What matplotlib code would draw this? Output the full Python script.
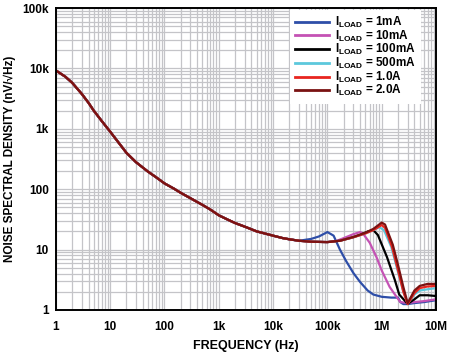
import matplotlib
matplotlib.use("Agg")
import matplotlib.pyplot as plt
from matplotlib.ticker import FixedLocator, LogLocator, NullFormatter

plt.rcParams["font.family"] = ["Liberation Sans", "DejaVu Sans"]
plt.rcParams["font.weight"] = "bold"
plt.rcParams["mathtext.fontset"] = "custom"
plt.rcParams["mathtext.rm"] = "Liberation Sans:bold"
plt.rcParams["mathtext.it"] = "Liberation Sans:bold"
plt.rcParams["mathtext.bf"] = "Liberation Sans:bold"

# shared low-frequency part (all load currents overlap here)
freq_lf = [1, 1.5, 2, 3, 4, 5, 7, 10, 15, 20, 30, 50, 70, 100, 150, 200, 300,
           500, 700, 1e3, 1.5e3, 2e3, 3e3, 5e3, 7e3, 1e4, 1.5e4, 2e4, 3e4]
nsd_lf = [9300, 7300, 5800, 3800, 2700, 2000, 1350, 900, 560, 400, 280, 195,
          158, 125, 102, 87, 71, 55, 46, 37, 31, 27.5, 24, 20, 18.5, 17,
          15.5, 14.8, 14]

# high-frequency part, one per load current
freq_1ma = [5e4, 7e4, 1e5, 1.3e5, 1.7e5, 2.2e5, 3e5, 4e5, 5.5e5, 7e5, 1e6,
            1.5e6, 2e6, 2.2e6, 2.5e6, 3e6, 4e6, 6e6, 1e7]
nsd_1ma = [15, 16.5, 19.5, 17, 10, 6.5, 4.1, 2.9, 2.1, 1.8, 1.65, 1.6, 1.6,
           1.35, 1.25, 1.25, 1.3, 1.35, 1.45]

freq_10ma = [5e4, 1e5, 1.5e5, 2e5, 3e5, 4e5, 4.5e5, 6e5, 8e5, 1e6, 1.4e6,
             1.75e6, 2.2e6, 3e6, 4e6, 6e6, 1e7]
nsd_10ma = [13.5, 13.3, 14, 15.5, 18, 19.5, 18.5, 13, 7.5, 4.5, 2.4, 1.8,
            1.35, 1.3, 1.35, 1.4, 1.5]

freq_100ma = [5e4, 1e5, 1.7e5, 3e5, 4e5, 5.6e5, 7e5, 8.5e5, 1.25e6, 1.75e6,
              2.1e6, 3e6, 4e6, 5e6, 7e6, 1e7]
nsd_100ma = [13.5, 13.3, 14, 16, 17.5, 20, 21, 17.4, 7.5, 3.1, 1.8, 1.26,
             1.5, 1.75, 1.75, 1.7]

freq_500ma = [5e4, 1e5, 1.7e5, 3e5, 5e5, 7e5, 9e5, 1.1e6, 1.5e6, 2e6, 2.5e6,
              3e6, 4e6, 5e6, 7e6, 1e7]
nsd_500ma = [13.5, 13.3, 14, 16, 18.5, 21, 23.5, 21, 11, 4.2, 2.0, 1.28, 1.8,
             2.1, 2.2, 2.3]

freq_1a = [5e4, 1e5, 1.7e5, 3e5, 5e5, 7e5, 1e6, 1.15e6, 1.55e6, 2e6, 2.5e6,
           3e6, 4e6, 5e6, 7e6, 1e7]
nsd_1a = [13.5, 13.3, 14, 16, 18.5, 21, 25.5, 23, 11, 4.5, 2.0, 1.25, 1.9,
          2.3, 2.45, 2.5]

freq_2a = [5e4, 1e5, 1.7e5, 3e5, 5e5, 7e5, 1e6, 1.15e6, 1.6e6, 2e6, 2.5e6,
           3e6, 4e6, 5e6, 7e6, 1e7]
nsd_2a = [13.5, 13.3, 14, 16.2, 19, 22, 28, 26, 12, 5.5, 2.4, 1.3, 2.1, 2.5,
          2.7, 2.7]

labels = ["1mA", "10mA", "100mA", "500mA", "1.0A", "2.0A"]
colors = ["#2e4ea8", "#c452b4", "#000000", "#5cc8dc", "#e8251f", "#7a1212"]
series = [(freq_1ma, nsd_1ma), (freq_10ma, nsd_10ma), (freq_100ma, nsd_100ma),
          (freq_500ma, nsd_500ma), (freq_1a, nsd_1a), (freq_2a, nsd_2a)]

xticks = [1, 10, 100, 1e3, 1e4, 1e5, 1e6, 1e7]
xticklabels = ["1", "10", "100", "1k", "10k", "100k", "1M", "10M"]
yticks = [1, 10, 100, 1e3, 1e4, 1e5]
yticklabels = ["1", "10", "100", "1k", "10k", "100k"]

fig = plt.figure(figsize=(4.5, 3.53), dpi=100)
ax = fig.add_axes([0.124, 0.122, 0.845, 0.855])

for (f, v), c, lab in zip(series, colors, labels):
    ax.plot(list(freq_lf) + list(f), list(nsd_lf) + list(v), color=c, lw=1.6,
            label=r"$\mathregular{I_{LOAD}}$ = " + lab)

ax.set_xscale("log")
ax.set_yscale("log")
ax.set_xlim(1, 1e7)
ax.set_ylim(1, 1e5)
ax.xaxis.set_major_locator(FixedLocator(xticks))
ax.yaxis.set_major_locator(FixedLocator(yticks))
ax.set_xticklabels(xticklabels)
ax.set_yticklabels(yticklabels)
ax.xaxis.set_minor_locator(LogLocator(base=10, subs=range(2, 10), numticks=20))
ax.yaxis.set_minor_locator(LogLocator(base=10, subs=range(2, 10), numticks=20))
ax.xaxis.set_minor_formatter(NullFormatter())
ax.yaxis.set_minor_formatter(NullFormatter())
ax.grid(True, which="both", color="#c4c4c8", lw=0.9)
ax.set_axisbelow(True)
ax.tick_params(axis="x", which="both", length=0, labelsize=8.5, pad=8)
ax.tick_params(axis="y", which="both", length=0, labelsize=8.5, pad=5)
for s in ax.spines.values():
    s.set_linewidth(1.4)

ax.set_xlabel("FREQUENCY (Hz)", fontsize=9, fontweight="bold", labelpad=5)
ax.set_ylabel("NOISE SPECTRAL DENSITY (nV/\u221aHz)", fontsize=8.5,
              fontweight="bold")
ax.yaxis.set_label_coords(-0.105, 0.5)

leg = ax.legend(loc="upper left", bbox_to_anchor=(0.615, 0.995), fontsize=8.5,
                handlelength=2.9, labelspacing=-0.12, borderaxespad=0,
                borderpad=0.45, framealpha=1, fancybox=False,
                handletextpad=0.5)
leg.get_frame().set_edgecolor("none")
for line in leg.get_lines():
    line.set_linewidth(2)

fig.savefig("out.png", dpi=100)
